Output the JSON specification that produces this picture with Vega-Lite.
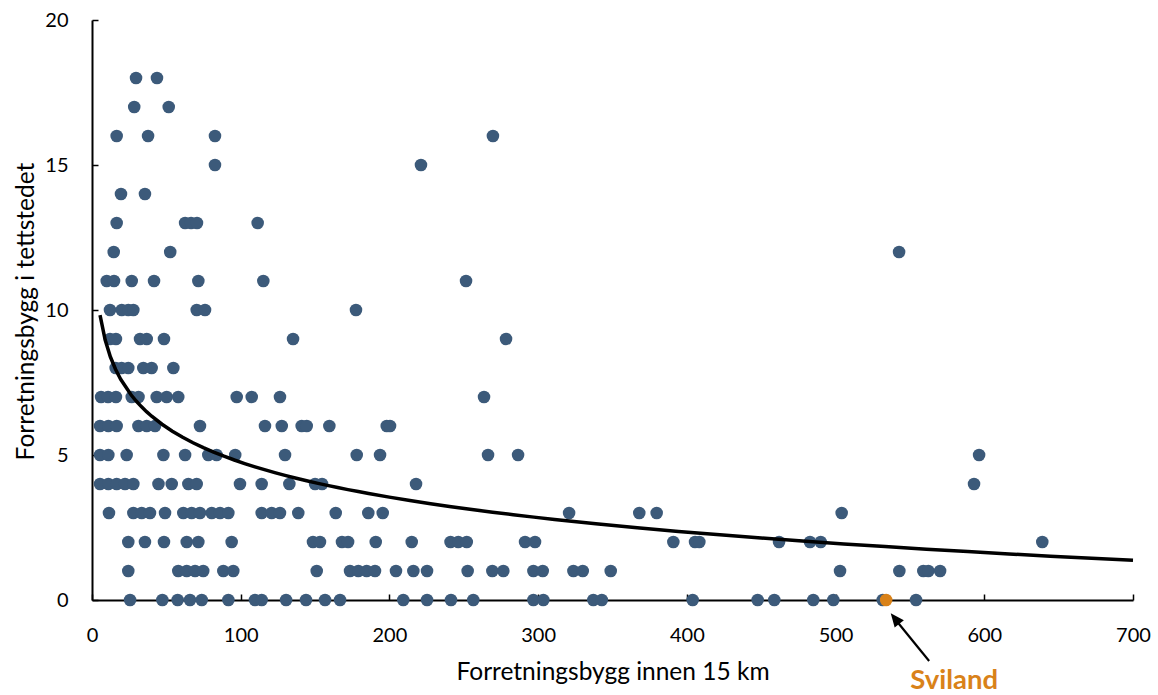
{
  "$schema": "https://vega.github.io/schema/vega-lite/v6.json",
  "width": 1041,
  "height": 580,
  "autosize": {"type": "none"},
  "padding": {"left": 92, "top": 20, "right": 25, "bottom": 95},
  "background": "white",
  "config": {"view": {"stroke": null}, "font": "Lato"},
  "datasets": {
    "pts": [
      {"x":29.6,"y":18},{"x":43.7,"y":18},
      {"x":28.4,"y":17},{"x":51.6,"y":17},
      {"x":16.6,"y":16},{"x":37.7,"y":16},{"x":82.7,"y":16},{"x":269.6,"y":16},
      {"x":82.7,"y":15},{"x":221.2,"y":15},
      {"x":19.5,"y":14},{"x":35.6,"y":14},
      {"x":16.6,"y":13},{"x":62.6,"y":13},{"x":66.6,"y":13},{"x":70.6,"y":13},{"x":111.4,"y":13},
      {"x":14.6,"y":12},{"x":52.6,"y":12},{"x":542.7,"y":12},
      {"x":9.9,"y":11},{"x":14.8,"y":11},{"x":26.7,"y":11},{"x":41.7,"y":11},{"x":71.5,"y":11},{"x":115.2,"y":11},{"x":251.5,"y":11},
      {"x":12.1,"y":10},{"x":20.0,"y":10},{"x":24.4,"y":10},{"x":27.8,"y":10},{"x":70.4,"y":10},{"x":76.0,"y":10},{"x":177.5,"y":10},
      {"x":12.1,"y":9},{"x":16.1,"y":9},{"x":32.3,"y":9},{"x":36.8,"y":9},{"x":48.4,"y":9},{"x":135.2,"y":9},{"x":278.4,"y":9},
      {"x":15.9,"y":8},{"x":19.9,"y":8},{"x":24.4,"y":8},{"x":34.5,"y":8},{"x":40.1,"y":8},{"x":54.7,"y":8},
      {"x":6.1,"y":7},{"x":10.8,"y":7},{"x":16.1,"y":7},{"x":26.7,"y":7},{"x":31.3,"y":7},{"x":43.5,"y":7},{"x":50.2,"y":7},{"x":58.0,"y":7},{"x":97.3,"y":7},{"x":107.4,"y":7},{"x":126.4,"y":7},{"x":263.6,"y":7},
      {"x":5.4,"y":6},{"x":11.0,"y":6},{"x":16.6,"y":6},{"x":31.2,"y":6},{"x":36.8,"y":6},{"x":42.4,"y":6},{"x":72.6,"y":6},{"x":116.3,"y":6},{"x":127.6,"y":6},{"x":141.0,"y":6},{"x":144.4,"y":6},{"x":159.6,"y":6},{"x":198.2,"y":6},{"x":200.4,"y":6},
      {"x":5.4,"y":5},{"x":11.0,"y":5},{"x":23.3,"y":5},{"x":48.0,"y":5},{"x":62.6,"y":5},{"x":78.2,"y":5},{"x":83.8,"y":5},{"x":96.3,"y":5},{"x":129.8,"y":5},{"x":178.0,"y":5},{"x":193.7,"y":5},{"x":266.3,"y":5},{"x":286.5,"y":5},{"x":596.5,"y":5},
      {"x":5.4,"y":4},{"x":11.0,"y":4},{"x":16.6,"y":4},{"x":22.2,"y":4},{"x":27.8,"y":4},{"x":44.7,"y":4},{"x":53.6,"y":4},{"x":64.8,"y":4},{"x":70.4,"y":4},{"x":99.5,"y":4},{"x":114.1,"y":4},{"x":132.7,"y":4},{"x":150.0,"y":4},{"x":154.7,"y":4},{"x":217.9,"y":4},{"x":593.1,"y":4},
      {"x":11.4,"y":3},{"x":27.8,"y":3},{"x":33.4,"y":3},{"x":39.0,"y":3},{"x":49.1,"y":3},{"x":61.4,"y":3},{"x":67.0,"y":3},{"x":72.6,"y":3},{"x":80.5,"y":3},{"x":86.1,"y":3},{"x":91.7,"y":3},{"x":114.1,"y":3},{"x":120.8,"y":3},{"x":126.4,"y":3},{"x":138.7,"y":3},{"x":163.9,"y":3},{"x":185.8,"y":3},{"x":195.5,"y":3},{"x":320.8,"y":3},{"x":368.0,"y":3},{"x":379.7,"y":3},{"x":504.1,"y":3},
      {"x":24.4,"y":2},{"x":35.6,"y":2},{"x":48.4,"y":2},{"x":63.7,"y":2},{"x":71.5,"y":2},{"x":93.9,"y":2},{"x":148.6,"y":2},{"x":153.3,"y":2},{"x":168.1,"y":2},{"x":172.2,"y":2},{"x":190.8,"y":2},{"x":215.0,"y":2},{"x":241.1,"y":2},{"x":246.3,"y":2},{"x":252.0,"y":2},{"x":291.2,"y":2},{"x":297.9,"y":2},{"x":390.9,"y":2},{"x":405.5,"y":2},{"x":408.4,"y":2},{"x":462.0,"y":2},{"x":482.8,"y":2},{"x":490.0,"y":2},{"x":639.0,"y":2},
      {"x":24.4,"y":1},{"x":58.0,"y":1},{"x":63.7,"y":1},{"x":69.3,"y":1},{"x":74.8,"y":1},{"x":88.3,"y":1},{"x":95.0,"y":1},{"x":151.1,"y":1},{"x":173.5,"y":1},{"x":179.1,"y":1},{"x":184.7,"y":1},{"x":190.3,"y":1},{"x":204.4,"y":1},{"x":216.1,"y":1},{"x":225.3,"y":1},{"x":252.6,"y":1},{"x":269.2,"y":1},{"x":276.6,"y":1},{"x":296.8,"y":1},{"x":303.1,"y":1},{"x":323.7,"y":1},{"x":330.0,"y":1},{"x":348.8,"y":1},{"x":503.0,"y":1},{"x":542.9,"y":1},{"x":559.0,"y":1},{"x":562.4,"y":1},{"x":570.3,"y":1},
      {"x":25.6,"y":0},{"x":47.3,"y":0},{"x":57.6,"y":0},{"x":65.9,"y":0},{"x":73.8,"y":0},{"x":91.7,"y":0},{"x":109.6,"y":0},{"x":114.1,"y":0},{"x":130.5,"y":0},{"x":143.9,"y":0},{"x":156.7,"y":0},{"x":166.8,"y":0},{"x":209.3,"y":0},{"x":225.3,"y":0},{"x":241.4,"y":0},{"x":256.4,"y":0},{"x":296.8,"y":0},{"x":303.5,"y":0},{"x":337.1,"y":0},{"x":342.8,"y":0},{"x":403.9,"y":0},{"x":447.6,"y":0},{"x":458.8,"y":0},{"x":485.0,"y":0},{"x":498.5,"y":0},{"x":531.7,"y":0},{"x":554.1,"y":0},
      {"x":534.0,"y":0,"sted":"Sviland"}
    ]
  },
  "data": {"name": "pts"},
  "encoding": {
    "x": {
      "field": "x", "type": "quantitative",
      "scale": {"domain": [0, 700], "nice": false, "zero": false},
      "axis": {
        "values": [0, 100, 200, 300, 400, 500, 600, 700],
        "grid": false, "labelFlush": false,
        "domainColor": "black", "domainWidth": 2,
        "tickColor": "black", "tickWidth": 1.5, "tickSize": -6,
        "labelPadding": 47, "labelBaseline": "alphabetic",
        "labelFontSize": 20, "labelColor": "black", "labelFont": "Lato",
        "title": "Forretningsbygg innen 15 km",
        "titleFontSize": 24.5, "titleFontWeight": "normal", "titleColor": "black", "titleFont": "Lato",
        "titleX": 520.5, "titleY": 79, "titleAlign": "center", "titleBaseline": "alphabetic"
      }
    },
    "y": {
      "field": "y", "type": "quantitative",
      "scale": {"domain": [0, 20], "nice": false},
      "axis": {
        "values": [0, 5, 10, 15, 20],
        "grid": false, "labelFlush": false,
        "domainColor": "black", "domainWidth": 2,
        "tickColor": "black", "tickWidth": 1.5, "tickSize": -6,
        "labelPadding": 30,
        "labelFontSize": 20, "labelColor": "black", "labelFont": "Lato",
        "title": "Forretningsbygg i tettstedet",
        "titleFontSize": 24.5, "titleFontWeight": "normal", "titleColor": "black", "titleFont": "Lato",
        "titleX": -66, "titleY": 291, "titleAlign": "center", "titleBaseline": "middle", "titleAngle": -90
      }
    }
  },
  "layer": [
    {
      "mark": {"type": "circle", "size": 158, "opacity": 1},
      "encoding": {
        "color": {"condition": {"test": "datum.sted === 'Sviland'", "value": "#D98219"}, "value": "#3C5A7A"}
      }
    },
    {
      "transform": [{"regression": "y", "on": "x", "method": "log", "extent": [5.4, 700]}],
      "mark": {"type": "line", "color": "black", "strokeWidth": 3.5},
      "encoding": {
        "x": {"field": "x", "type": "quantitative"},
        "y": {"field": "y", "type": "quantitative"}
      }
    },
    {
      "transform": [{"filter": "datum.sted === 'Sviland'"}],
      "mark": {"type": "rule", "color": "black", "strokeWidth": 2.2, "xOffset": 8, "yOffset": 18, "x2Offset": 43, "y2Offset": 61},
      "encoding": {
        "x2": {"field": "x"},
        "y2": {"field": "y"}
      }
    },
    {
      "transform": [{"filter": "datum.sted === 'Sviland'"}],
      "mark": {"type": "point", "shape": "M0,0 L0.65,1.5 L-0.65,1.5 Z", "filled": true, "color": "black", "opacity": 1, "size": 330, "angle": -38.8, "xOffset": 4.6, "yOffset": 13.3}
    },
    {
      "transform": [{"filter": "datum.sted === 'Sviland'"}],
      "mark": {"type": "text", "color": "#D98219", "fontWeight": "bold", "fontSize": 27.5, "font": "Lato", "align": "center", "baseline": "alphabetic", "dx": 68, "dy": 89},
      "encoding": {"text": {"field": "sted"}}
    }
  ]
}
